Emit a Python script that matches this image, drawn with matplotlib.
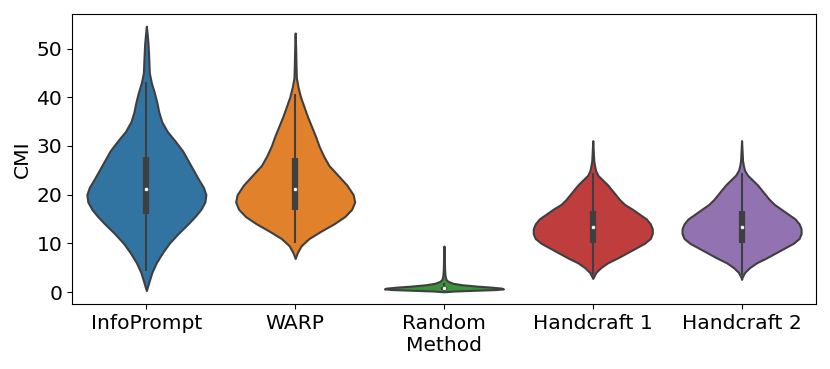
import numpy as np
import matplotlib
matplotlib.use("Agg")
import matplotlib.pyplot as plt

methods = ["InfoPrompt", "WARP", "Random", "Handcraft 1", "Handcraft 2"]
colors = ["#3274a1", "#e1812c", "#3a923a", "#c03d3e", "#9372b2"]

# violin outlines: CMI value and relative half-width
info_y = [54.6, 53, 51, 49, 47, 45, 43, 41, 39, 37, 35, 33, 31, 29, 27, 25, 23,
          21.5, 20, 18.5, 17, 15.5, 14, 12, 10, 8, 6, 4, 2, 0.3]
info_w = [0, 0.8, 1.7, 2.2, 2.6, 3, 5, 8, 10.5, 12.5, 15.5, 21, 29, 36.5, 42,
          47.5, 53, 57.5, 60, 59, 55, 49, 42, 32, 23, 16, 10, 5.5, 2.5, 0]

warp_y = [53.2, 50, 47, 44, 42, 40, 38, 36, 34, 32, 30, 28, 26, 24, 22, 20,
          18.5, 17, 15.5, 14, 12.5, 11, 9.5, 8, 6.9]
warp_w = [0, 0.5, 0.8, 1.2, 3, 5.5, 9, 12.5, 16.5, 20.5, 24, 28.5, 34, 43, 52,
          58.5, 60, 57, 50, 39, 26, 14, 6, 2, 0]

rand_y = [9.45, 7, 5, 3.5, 2.6, 2.2, 1.8, 1.5, 1.2, 1.0, 0.8, 0.65, 0.5, 0.35,
          0.2, 0.05]
rand_w = [0, 0.4, 0.6, 1, 2, 4, 9, 18, 34, 48, 58, 60, 52, 30, 10, 0]

hc1_y = [31.1, 29, 27, 26, 25, 24, 23, 22, 21, 20, 19, 18, 17, 16, 15, 14, 13,
         12, 11, 10, 9, 8, 7, 6, 5, 4, 3, 2.8]
hc1_w = [0, 0.5, 1, 1.8, 2.8, 5, 10, 15, 19, 23, 27, 32, 40, 47, 54, 58, 60,
         60, 58, 52, 43, 34, 25, 15, 8, 3, 0.5, 0]

hc2_y = [31.1, 29, 27, 26, 25, 24, 23, 22, 21, 20, 19, 18, 17, 16, 15, 14, 13,
         12, 11, 10, 9, 8, 7, 6, 5, 4, 3, 2.6]
hc2_w = [0, 0.5, 1, 1.8, 3, 6, 11, 16, 20, 24, 28, 33, 40, 47, 54, 58, 60,
         60, 58, 52, 43, 34, 25, 15, 8, 3, 0.5, 0]

# inner box: whisker low, q1, median, q3, whisker high
whisk_lo = [4.4, 10.1, 0.3, 3.5, 3.5]
q1 = [16.0, 16.8, 0.5, 10.1, 10.1]
median = [21.2, 21.1, 0.8, 13.3, 13.3]
q3 = [27.8, 27.5, 1.0, 16.7, 16.7]
whisk_hi = [43.2, 40.7, 1.9, 24.4, 24.4]

outlines = [(info_y, info_w), (warp_y, warp_w), (rand_y, rand_w),
            (hc1_y, hc1_w), (hc2_y, hc2_w)]

gray = "#3f3f3f"

fig = plt.figure(figsize=(8.3, 3.69), dpi=100)
ax = fig.add_axes([0.0867, 0.176, 0.8964, 0.786])

stats = []
for (ys, ws), m in zip(outlines, median):
    stats.append({"coords": np.array(ys), "vals": np.array(ws, dtype=float),
                  "mean": m, "median": m, "min": min(ys), "max": max(ys)})

pos = np.arange(len(methods))
parts = ax.violin(stats, positions=pos, widths=0.8, showmeans=False,
                  showextrema=False, showmedians=False)
for body, c in zip(parts["bodies"], colors):
    body.set_facecolor(c)
    body.set_edgecolor(gray)
    body.set_linewidth(1.5)
    body.set_alpha(1)

ax.vlines(pos, whisk_lo, whisk_hi, color=gray, lw=1.5, zorder=2)
ax.vlines(pos, q1, q3, color=gray, lw=4.5, zorder=2)
ax.scatter(pos, median, s=9, color="white", edgecolor=gray, lw=0.5, zorder=3)

ax.set_xlim(-0.5, 4.5)
ax.set_ylim(-2.47, 57.1)
ax.set_xticks(pos)
ax.set_xticklabels(methods)
ax.set_yticks([0, 10, 20, 30, 40, 50])
ax.tick_params(labelsize=14.6)
ax.set_xlabel("Method", fontsize=14.6, labelpad=2)
ax.set_ylabel("CMI", fontsize=14.6, labelpad=3)

fig.savefig("out.png", dpi=100)
